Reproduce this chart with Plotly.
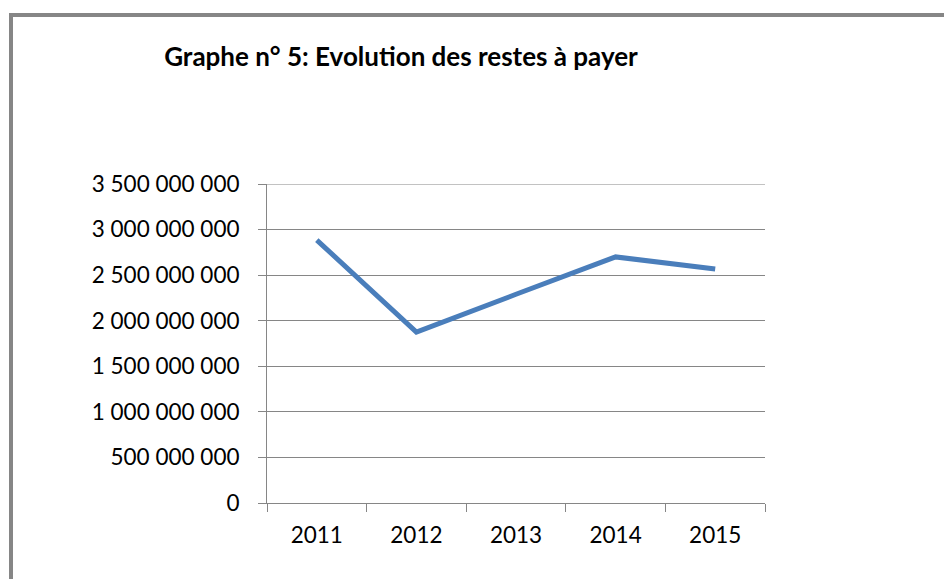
import plotly.graph_objects as go

years = ["2011", "2012", "2013", "2014", "2015"]
restes = [2885000000, 1876000000, 2290000000, 2700000000, 2568000000]

# page body adds an 8px margin, so work in reference pixels minus 8
O = 8
W, H = 952 - O, 579 - O
L, T = 267 - O, 184 - O
R, B = 952 - 765, 579 - 503
pw, ph = W - L - R, H - T - B


def px(x):
    return (x - O - L) / pw


def py(y):
    return (H - B - (y - O)) / ph


fig = go.Figure()
fig.add_trace(go.Scatter(
    x=years, y=restes, mode="lines",
    line=dict(color="#4A7EBB", width=5),
    showlegend=False
))

grey = "#868686"
fig.update_layout(
    width=W, height=H,
    margin=dict(l=L, r=R, t=T, b=B),
    paper_bgcolor="white", plot_bgcolor="white",
    separators=", ",
    font=dict(family="Lato, Carlito, Calibri, sans-serif", size=22.5, color="black"),
    title=dict(text="<b>Graphe n° 5: Evolution des restes à payer</b>",
               x=(401 - O) / W, xanchor="center", y=1 - (57 - O) / H, yanchor="middle",
               font=dict(size=26)),
    xaxis=dict(type="category", range=[-0.5, 4.5], showgrid=False, showline=True,
               linecolor=grey, linewidth=1, ticks="outside", tickson="boundaries",
               ticklen=8, tickcolor=grey, ticklabelstandoff=12),
    yaxis=dict(range=[0, 3500000000], dtick=500000000, tickformat=",d",
               showgrid=True, gridcolor=grey, gridwidth=1, showline=True,
               linecolor=grey, linewidth=1, ticks="outside", ticklen=8,
               tickcolor=grey, zeroline=False, ticklabelstandoff=14),
)

# top gridline sits on the range edge
fig.add_shape(type="line", xref="paper", yref="y", x0=0, x1=1,
              y0=3500000000, y1=3500000000, line=dict(color=grey, width=1))

# frame around the chart (left and top edges)
for x0, y0, x1, y1 in [(11, 13, 11, 600), (9, 15, 960, 15)]:
    fig.add_shape(type="line", xref="paper", yref="paper",
                  x0=px(x0), y0=py(y0), x1=px(x1), y1=py(y1),
                  line=dict(color=grey, width=4))

fig.write_html("out.html")
